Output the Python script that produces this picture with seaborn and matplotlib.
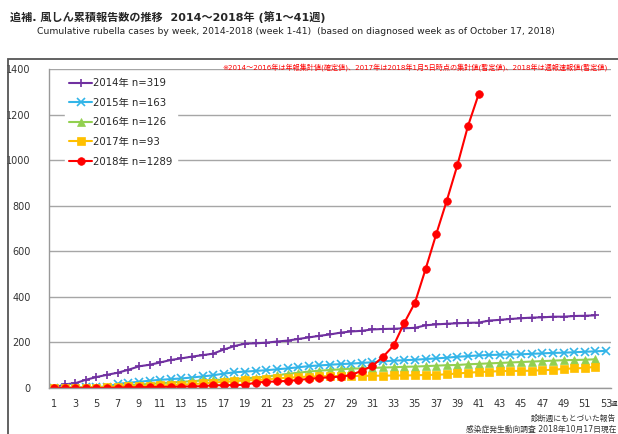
import numpy as np
import pandas as pd
import matplotlib
matplotlib.use("Agg")
import matplotlib.pyplot as plt
import seaborn as sns
from matplotlib.patches import Rectangle

# weekly cumulative rubella counts
y2014 = [1, 16, 21, 36, 48, 58, 67, 80, 95, 102, 112, 123, 130, 138, 144, 151, 169, 184, 195, 196,
         199, 204, 208, 215, 222, 229, 235, 243, 248, 251, 257, 259, 260, 262, 264, 275, 279, 282, 284, 286,
         287, 296, 299, 303, 306, 309, 310, 313, 313, 316, 317, 319]
y2015 = [0, 1, 2, 3, 4, 6, 18, 23, 27, 32, 36, 39, 42, 46, 51, 56, 63, 69, 72, 75,
         78, 82, 86, 91, 96, 99, 102, 105, 107, 110, 113, 117, 120, 122, 124, 127, 130, 133, 137, 140,
         143, 145, 146, 147, 148, 150, 152, 154, 155, 157, 159, 161, 163]
y2016 = [0, 1, 2, 3, 4, 6, 10, 12, 15, 18, 21, 24, 27, 30, 33, 35, 37, 40, 42, 46,
         50, 56, 62, 67, 72, 76, 79, 82, 85, 86, 88, 90, 91, 93, 94, 96, 98, 100, 101, 104,
         106, 108, 110, 112, 114, 116, 118, 120, 122, 123, 124, 126]
y2017 = [0, 0, 1, 1, 2, 3, 5, 7, 8, 10, 11, 13, 15, 17, 20, 24, 27, 30, 33, 35,
         38, 42, 45, 48, 50, 51, 52, 52, 53, 53, 54, 54, 55, 55, 56, 57, 58, 60, 64, 67,
         70, 72, 74, 75, 75, 76, 78, 80, 84, 86, 88, 93]
y2018 = [0, 0, 0, 0, 0, 0, 2, 3, 3, 4, 5, 5, 6, 7, 8, 12, 12, 13, 14, 24,
         27, 29, 31, 35, 40, 44, 47, 50, 57, 76, 97, 137, 187, 286, 374, 521, 674, 822, 978, 1150,
         1289]

labels = ["2014年 n=319", "2015年 n=163", "2016年 n=126", "2017年 n=93", "2018年 n=1289"]
series = [y2014, y2015, y2016, y2017, y2018]
colors = ["#7030A0", "#33B5E8", "#92D050", "#FFC000", "#FF0000"]
markers = ["+", "x", "^", "s", "o"]
week_ticks = list(range(1, 54, 2))

sns.set_style("white")
plt.rcParams["font.family"] = ["DejaVu Sans", "Noto Sans CJK JP"]

fig = plt.figure(figsize=(6.18, 4.34), dpi=100)
ax = fig.add_axes([48.7 / 618, 46 / 434, 562.6 / 618, 319 / 434])

for lab, vals, c, m in zip(labels, series, colors, markers):
    d = pd.DataFrame({"week": np.arange(1, len(vals) + 1), "cases": vals})
    sns.lineplot(data=d, x="week", y="cases", color=c, marker=m, linewidth=1.5,
                 markersize=6 if m in "+x" else 5.5, markeredgewidth=1.2 if m in "+x" else 0.5,
                 markeredgecolor=c, label=lab, ax=ax)

ax.set_xlim(0.5, 53.5)
ax.set_ylim(0, 1400)
ax.set_yticks(range(0, 1401, 200))
ax.set_xticks(week_ticks)
ax.set_xticks(np.arange(0.5, 54, 1), minor=True)
ax.tick_params(axis="x", which="major", length=0, labelsize=7, colors="#333333", pad=8)
ax.tick_params(axis="x", which="minor", length=4, color="#888888", direction="out")
ax.tick_params(axis="y", length=5, color="#888888", labelsize=7, colors="#333333", pad=8)
ax.yaxis.grid(True, color="#a6a6a6", linewidth=1)
ax.set_axisbelow(True)
ax.set_xlabel("")
ax.set_ylabel("")
for s in ["top", "right"]:
    ax.spines[s].set_visible(False)
for s in ["left", "bottom"]:
    ax.spines[s].set_color("#999999")
    ax.spines[s].set_linewidth(1)

leg = ax.legend(loc="upper left", bbox_to_anchor=(0.02, 1.0), frameon=True, fontsize=7.3,
                handlelength=2.3, handletextpad=0.1, labelspacing=0.95, borderpad=0.4)
leg.get_frame().set_facecolor("white")
leg.get_frame().set_edgecolor("white")
leg.get_frame().set_alpha(1)

# outer frame
fig.patches.append(Rectangle((8 / 618, -0.1), 1.0, 0.1 + (434 - 59) / 434, transform=fig.transFigure,
                             fill=False, edgecolor="#555555", linewidth=1.3, clip_on=False))

fig.text(10 / 618, 1 - 17 / 434, "追補. 風しん累積報告数の推移  2014～2018年 (第1～41週)",
         fontsize=8, fontweight="bold", va="center", ha="left")
fig.text(37 / 618, 1 - 32 / 434,
         "Cumulative rubella cases by week, 2014-2018 (week 1-41)  (based on diagnosed week as of October 17, 2018)",
         fontsize=6.65, va="center", ha="left", color="#222222")
fig.text(222 / 618, 1 - 67 / 434,
         "※2014～2016年は年報集計値(確定値)、2017年は2018年1月5日時点の集計値(暫定値)、2018年は週報速報値(暫定値)",
         fontsize=5.1, va="center", ha="left", color="#FF0000")
fig.text(616 / 618, 1 - 418 / 434, "診断週にもとづいた報告", fontsize=5.6, va="center", ha="right", color="#333333")
fig.text(616 / 618, 1 - 429 / 434, "感染症発生動向調査 2018年10月17日現在", fontsize=5.6, va="center", ha="right",
         color="#333333")
fig.text(617.5 / 618, 1 - 404 / 434, "週", fontsize=4.8, va="center", ha="right", color="#333333")

fig.savefig("out.png", dpi=100)
